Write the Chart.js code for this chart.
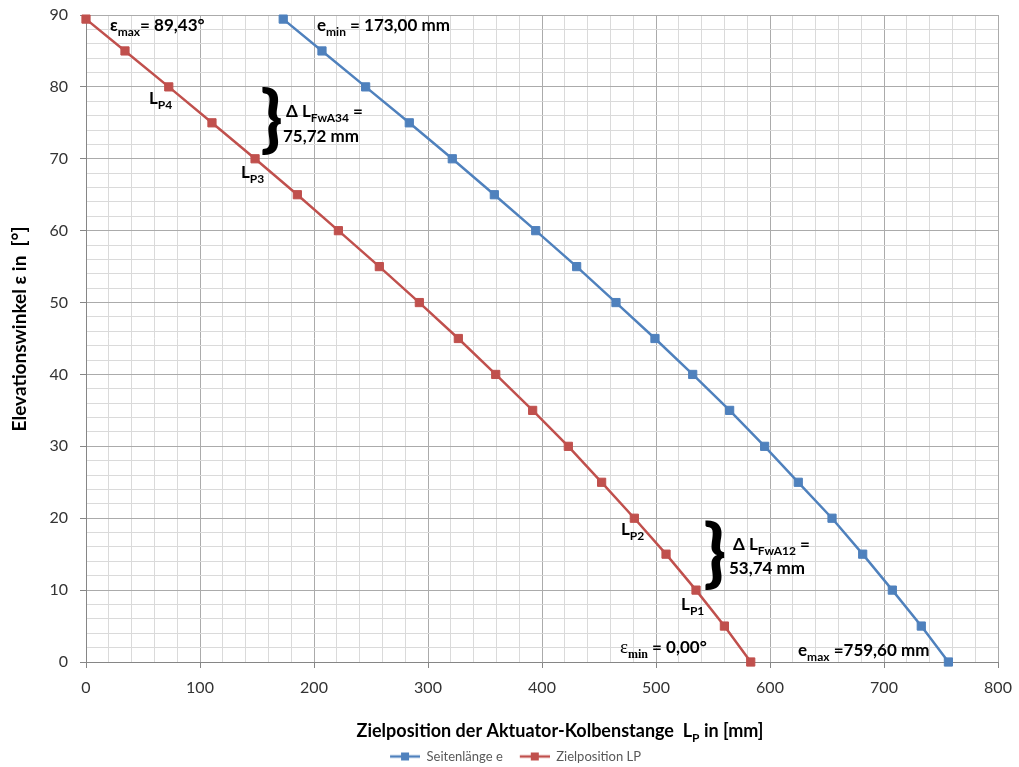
<!DOCTYPE html>
<html lang="de">
<head>
<meta charset="utf-8">
<title>Elevationswinkel über Zielposition</title>
<script src="https://cdn.jsdelivr.net/npm/chart.js@4.4.1/dist/chart.umd.min.js"></script>
<style>
  html, body { margin: 0; padding: 0; background: #fff; }
</style>
</head>
<body>
<canvas id="chart" width="1019" height="767"></canvas>
<script>
// Data
const angles  = [89.43, 85, 80, 75, 70, 65, 60, 55, 50, 45, 40, 35, 30, 25, 20, 15, 10, 5, 0];
const zielLP  = [0, 34.2, 72.6, 110.5, 148.3, 185.4, 221.4, 257.3, 292.4, 326.6, 359.4, 391.8, 423.1, 452.3, 481.0, 508.8, 535.1, 560.0, 583.1];
const seitenE = [173.0, 207.0, 245.3, 283.6, 321.3, 358.2, 394.5, 430.4, 464.9, 499.1, 532.2, 564.6, 595.3, 624.8, 654.4, 681.3, 707.3, 732.7, 756.5];
const xMajor  = [0, 100, 200, 300, 400, 500, 600, 700, 800];
const yMajor  = [0, 10, 20, 30, 40, 50, 60, 70, 80, 90];

const FONT = 'Lato, "Open Sans", sans-serif';
const BLUE = '#4F81BD';
const RED = '#C0504D';
const MAJOR_GRID = '#ababab';
const MINOR_GRID = '#dadada';
const AXIS = '#868686';

Chart.defaults.font.family = FONT;
Chart.defaults.color = '#333';

// Text annotations, anchored in data coordinates (x in mm, y in degrees)
const notes = [
  { x: 21,    y: 87.8, parts: [['ε'], ['max', 'sub'], ['= 89,43°']] },
  { x: 202.6, y: 87.8, parts: [['e'], ['min', 'sub'], [' = 173,00 mm']] },
  { x: 55.3,  y: 77.6, parts: [['L'], ['P4', 'sub']] },
  { x: 175.4, y: 75.8, parts: [['Δ L'], ['FwA34', 'sub'], [' =']] },
  { x: 172.8, y: 72.3, parts: [['75,72 mm']] },
  { x: 136,   y: 67.3, parts: [['L'], ['P3', 'sub']] },
  { x: 469.3, y: 17.7, parts: [['L'], ['P2', 'sub']] },
  { x: 567.5, y: 15.6, parts: [['Δ L'], ['FwA12', 'sub'], [' =']] },
  { x: 564,   y: 12.2, parts: [['53,74 mm']] },
  { x: 522,   y: 7.2,  parts: [['L'], ['P1', 'sub']] },
  { x: 468.4, y: 1.25, parts: [['ε', 'serif'], ['min', 'serifsub'], [' = 0,00°']] },
  { x: 624.6, y: 0.83, parts: [['e'], ['max', 'sub'], [' =759,60 mm']] }
];
const braces = [
  { x: 154.4, top: 79.8, bottom: 70.5 },
  { x: 543,   top: 19.5, bottom: 10.0 }
];

function partFont(kind, size) {
  const sub = kind.includes('sub');
  const serif = kind.includes('serif');
  const fs = sub ? Math.round(size * 0.68) : size;
  if (serif) return (sub ? 'bold ' : '') + (sub ? fs : fs + 2) + 'px "Liberation Serif", serif';
  return 'bold ' + fs + 'px ' + FONT;
}

function richWidth(ctx, parts, size) {
  let w = 0;
  parts.forEach(([t, kind = '']) => {
    ctx.font = partFont(kind, size);
    w += ctx.measureText(t).width;
  });
  return w;
}

function drawRich(ctx, x, y, parts, size) {
  let cx = x;
  parts.forEach(([t, kind = '']) => {
    ctx.font = partFont(kind, size);
    ctx.fillText(t, cx, y + (kind.includes('sub') ? size * 0.28 : 0));
    cx += ctx.measureText(t).width;
  });
}

function drawBrace(ctx, left, top, bottom) {
  ctx.font = '900 100px ' + FONT;
  const m = ctx.measureText('}');
  const h = m.actualBoundingBoxAscent + m.actualBoundingBoxDescent;
  const s = (bottom - top) / h;
  ctx.save();
  ctx.translate(left + m.actualBoundingBoxLeft * s, top + m.actualBoundingBoxAscent * s);
  ctx.scale(s, s);
  ctx.fillText('}', 0, 0);
  ctx.restore();
}

// Legend marker: line with a square, like the series
function legendIcon(color) {
  const c = document.createElement('canvas');
  c.width = 43;
  c.height = 10;
  const g = c.getContext('2d');
  g.strokeStyle = color;
  g.lineWidth = 2.5;
  g.beginPath();
  g.moveTo(13, 5);
  g.lineTo(43, 5);
  g.stroke();
  g.fillStyle = color;
  g.fillRect(24, 1, 8, 8);
  return c;
}
const legendIcons = [legendIcon(BLUE), legendIcon(RED)];

const annotationPlugin = {
  id: 'annotations',
  afterDatasetsDraw(chart) {
    const { ctx, scales: { x, y } } = chart;
    ctx.save();
    ctx.fillStyle = '#000';
    ctx.textAlign = 'left';
    ctx.textBaseline = 'alphabetic';
    notes.forEach(n => drawRich(ctx, x.getPixelForValue(n.x), y.getPixelForValue(n.y), n.parts, 17));
    braces.forEach(b => drawBrace(ctx, x.getPixelForValue(b.x), y.getPixelForValue(b.top), y.getPixelForValue(b.bottom)));
    ctx.restore();
  },
  afterDraw(chart) {
    // axis titles (x title needs a subscript)
    const ctx = chart.ctx;
    ctx.save();
    ctx.fillStyle = '#000';
    ctx.textBaseline = 'alphabetic';
    const xTitle = [['Zielposition der Aktuator-Kolbenstange  L'], ['P', 'sub'], [' in [mm]']];
    const wx = richWidth(ctx, xTitle, 18);
    drawRich(ctx, 560 - wx / 2, 737, xTitle, 18);

    const yTitle = [['Elevationswinkel ε in  [°]']];
    const wy = richWidth(ctx, yTitle, 19);
    ctx.translate(26, 329);
    ctx.rotate(-Math.PI / 2);
    drawRich(ctx, -wy / 2, 0, yTitle, 19);
    ctx.restore();
  }
};

const isMajor = (list) => (c) => list.includes(c.tick && c.tick.value);

new Chart(document.getElementById('chart'), {
  type: 'scatter',
  data: {
    datasets: [
      {
        label: 'Seitenlänge e',
        data: seitenE.map((v, i) => ({ x: v, y: angles[i] })),
        borderColor: BLUE,
        backgroundColor: BLUE,
        showLine: true,
        borderWidth: 2.5,
        pointStyle: 'rect',
        pointRadius: 5.8,
        pointBorderWidth: 1,
        clip: false
      },
      {
        label: 'Zielposition LP',
        data: zielLP.map((v, i) => ({ x: v, y: angles[i] })),
        borderColor: RED,
        backgroundColor: RED,
        showLine: true,
        borderWidth: 2.5,
        pointStyle: 'rect',
        pointRadius: 5.8,
        pointBorderWidth: 1,
        clip: false
      }
    ]
  },
  options: {
    responsive: false,
    animation: false,
    layout: { padding: { left: 20, right: 21, top: 15, bottom: -6 } },
    plugins: {
      tooltip: { enabled: false },
      legend: {
        position: 'bottom',
        labels: {
          usePointStyle: true,
          pointStyleWidth: 43,
          padding: 4,
          color: '#595959',
          font: { size: 13 },
          generateLabels(chart) {
            const items = Chart.defaults.plugins.legend.labels.generateLabels(chart);
            items.forEach(it => { it.pointStyle = legendIcons[it.datasetIndex]; });
            return items;
          }
        }
      }
    },
    scales: {
      x: {
        type: 'linear',
        min: 0,
        max: 800,
        afterFit(scale) {
          scale.height = 767 + 6 - 662 - scale.chart.legend.height;
          scale.paddingLeft = 0;
          scale.paddingRight = 0;
        },
        ticks: {
          stepSize: 20,
          autoSkip: false,
          maxTicksLimit: 100,
          maxRotation: 0,
          padding: 10,
          font: { size: 16 },
          color: '#333',
          callback: v => xMajor.includes(v) ? String(v) : ''
        },
        grid: {
          color: c => isMajor(xMajor)(c) ? MAJOR_GRID : MINOR_GRID,
          tickColor: c => isMajor(xMajor)(c) ? AXIS : 'rgba(0,0,0,0)',
          tickLength: 6
        },
        border: { color: AXIS }
      },
      y: {
        type: 'linear',
        min: 0,
        max: 90,
        afterFit(scale) {
          scale.width = 66;
          scale.paddingTop = 0;
          scale.paddingBottom = 0;
        },
        ticks: {
          stepSize: 2,
          autoSkip: false,
          maxTicksLimit: 100,
          padding: 12,
          font: { size: 16 },
          color: '#333',
          callback: v => yMajor.includes(v) ? String(v) : ''
        },
        grid: {
          color: c => isMajor(yMajor)(c) ? MAJOR_GRID : MINOR_GRID,
          tickColor: c => isMajor(yMajor)(c) ? AXIS : 'rgba(0,0,0,0)',
          tickLength: 6
        },
        border: { color: AXIS }
      }
    }
  },
  plugins: [annotationPlugin]
});
</script>
</body>
</html>
